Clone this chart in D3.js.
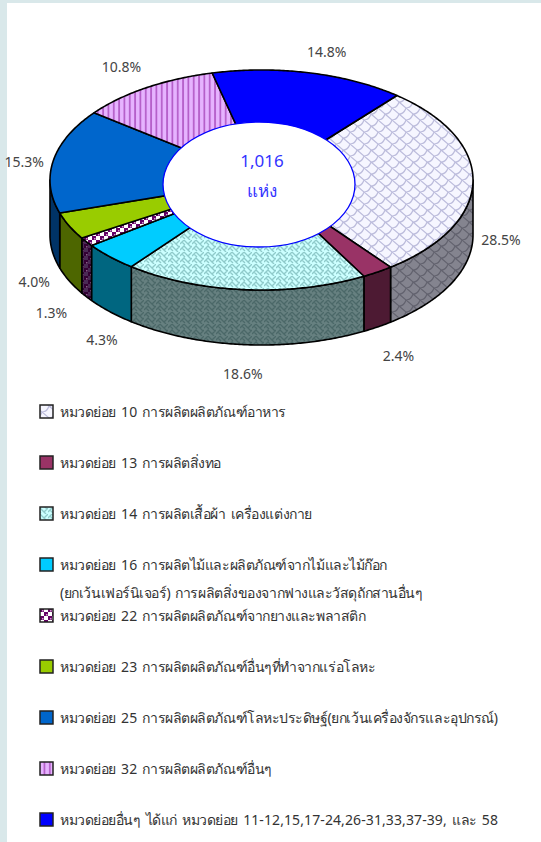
<!DOCTYPE html>
<html>
<head>
<meta charset="utf-8">
<script src="https://cdnjs.cloudflare.com/ajax/libs/d3/7.8.5/d3.min.js"></script>
<style>
    html, body { margin: 0; padding: 0; background: #d9e8ea; overflow: hidden; }
    #chart { position: absolute; left: 7px; top: 3px; width: 534px; height: 839px; background: #fff; }
    svg { position: absolute; left: -7px; top: -3px; }
    text { font-family: Tahoma, "Noto Sans", "DejaVu Sans", sans-serif; }
</style>
</head>
<body>
<div id="chart"></div>
<script>
//Datos
const categorias = [
    'หมวดย่อย 10 การผลิตผลิตภัณฑ์อาหาร',
    'หมวดย่อย 13 การผลิตสิ่งทอ',
    'หมวดย่อย 14 การผลิตเสื้อผ้า เครื่องแต่งกาย',
    'หมวดย่อย 16 การผลิตไม้และผลิตภัณฑ์จากไม้และไม้ก๊อก',
    'หมวดย่อย 22 การผลิตผลิตภัณฑ์จากยางและพลาสติก',
    'หมวดย่อย 23 การผลิตผลิตภัณฑ์อื่นๆที่ทำจากแร่อโลหะ',
    'หมวดย่อย 25 การผลิตผลิตภัณฑ์โลหะประดิษฐ์(ยกเว้นเครื่องจักรและอุปกรณ์)',
    'หมวดย่อย 32 การผลิตผลิตภัณฑ์อื่นๆ',
    'หมวดย่อยอื่นๆ ได้แก่ หมวดย่อย 11-12,15,17-24,26-31,33,37-39, และ 58'
];
const valores = [28.5, 2.4, 18.6, 4.3, 1.3, 4.0, 15.3, 10.8, 14.8];
const etiquetas = ['28.5%', '2.4%', '18.6%', '4.3%', '1.3%', '4.0%', '15.3%', '10.8%', '14.8%'];
const lineaExtra = '(ยกเว้นเฟอร์นิเจอร์) การผลิตสิ่งของจากฟางและวัสดุถักสานอื่นๆ';
const centro = ['1,016', 'แห่ง'];

//Colores: cara superior y pared lateral
const COLOR_TOP = ['url(#p0)', '#993366', 'url(#p2)', '#00ccff', 'url(#p4)', '#99cc00', '#0066cc', 'url(#p7)', '#0000ff'];
const COLOR_SIDE = ['url(#s0)', '#4d1a33', 'url(#s2)', '#006680', 'url(#s4)', '#4d6600', '#003366', '#704a80', '#000080'];

//Desplazamiento de las etiquetas respecto al borde de la tarta
const labelDx = [28, 21, -2, -8, -35, -35, -29, -25, 17];
const labelDy = [3, 29, 29, 28, 16, 1, 1, -21, -21];

const width = 541, height = 842;
const cx = 261.5, cy = 180, rx = 211.5, ry = 110, depth = 55;
const START = 39.8 * Math.PI / 180;

let svg = d3.select('#chart').append('svg')
    .attr('width', width)
    .attr('height', height);

let defs = svg.append('defs');

//Tramas
function addPattern(id, w, h, bg, draw) {
    let p = defs.append('pattern')
        .attr('id', id)
        .attr('patternUnits', 'userSpaceOnUse')
        .attr('width', w)
        .attr('height', h);
    p.append('rect').attr('width', w).attr('height', h).attr('fill', bg);
    draw(p);
}

function scales(stroke) {
    return function(p) {
        p.append('path')
            .attr('d', 'M0 0 L7 6 Q12 6 14 0 M7 6 L14 12 M0 12 Q5 12 7 6')
            .attr('fill', 'none')
            .attr('stroke', stroke)
            .attr('stroke-width', 1.2);
    };
}

function weave(stroke) {
    return function(p) {
        p.append('path')
            .attr('d', 'M0 4 L4 0 L8 4 L12 0 M0 10 L4 6 L8 10 L12 6 M2 2 L5 5 M8 4 L11 7 M2 8 L5 11 M8 10 L10 12')
            .attr('fill', 'none')
            .attr('stroke', stroke)
            .attr('stroke-width', 1.3);
    };
}

function checks(a, b) {
    return function(p) {
        p.append('rect').attr('width', 4).attr('height', 4).attr('fill', a);
        p.append('rect').attr('x', 4).attr('y', 4).attr('width', 4).attr('height', 4).attr('fill', a);
        p.append('rect').attr('x', 2).attr('y', 2).attr('width', 1.5).attr('height', 1.5).attr('fill', b);
        p.append('rect').attr('x', 6).attr('y', 6).attr('width', 1.5).attr('height', 1.5).attr('fill', b);
    };
}

addPattern('p0', 14, 12, '#f6f6ff', scales('#bcbcdc'));
addPattern('s0', 14, 12, '#84848f', scales('#62626e'));
addPattern('p2', 12, 12, '#ccffff', weave('#8fcaca'));
addPattern('s2', 12, 12, '#668080', weave('#4b6868'));
addPattern('p4', 8, 8, '#ffffff', checks('#660066', '#cc99cc'));
addPattern('s4', 8, 8, '#4a2a55', checks('#330033', '#886088'));
addPattern('p7', 5.33, 6, '#e6b3ff', function(p) {
    p.append('rect').attr('x', 1).attr('width', 1.7).attr('height', 6).attr('fill', '#b35cc8');
});

//Sectores
let pie = d3.pie()
    .sort(null)
    .startAngle(START)
    .endAngle(START + 2 * Math.PI);

let slices = pie(valores);

//Angulo medido desde arriba en sentido horario, proyectado sobre la elipse
function px(a) { return cx + rx * Math.sin(a); }
function py(a) { return cy - ry * Math.cos(a); }

let line = d3.line();

function angles(a0, a1) {
    let step = 0.01;
    return d3.range(a0, a1, step).concat([a1]);
}

function topPath(d) {
    let pts = angles(d.startAngle, d.endAngle).map(function(a) { return [px(a), py(a)]; });
    return line([[cx, cy]].concat(pts)) + 'Z';
}

//Solo se ve la pared entre 90 y 270 grados
function sidePath(d) {
    let a0 = Math.max(d.startAngle, Math.PI / 2),
        a1 = Math.min(d.endAngle, 3 * Math.PI / 2);
    if (a1 <= a0) { return null; }
    let upper = angles(a0, a1).map(function(a) { return [px(a), py(a)]; });
    let lower = angles(a0, a1).reverse().map(function(a) { return [px(a), py(a) + depth]; });
    return line(upper.concat(lower)) + 'Z';
}

let pieG = svg.append('g').attr('class', 'pie');

pieG.selectAll('.side')
    .data(slices)
    .enter()
    .append('path')
    .attr('class', 'side')
    .attr('d', sidePath)
    .attr('fill', function(d, i) { return COLOR_SIDE[i]; })
    .attr('stroke', '#000')
    .attr('stroke-width', 1.6)
    .attr('stroke-linejoin', 'round');

pieG.selectAll('.top')
    .data(slices)
    .enter()
    .append('path')
    .attr('class', 'top')
    .attr('d', topPath)
    .attr('fill', function(d, i) { return COLOR_TOP[i]; })
    .attr('stroke', '#000')
    .attr('stroke-width', 1.6)
    .attr('stroke-linejoin', 'round');

//Elipse central
svg.append('ellipse')
    .attr('cx', 259)
    .attr('cy', 184.5)
    .attr('rx', 96)
    .attr('ry', 62.5)
    .attr('fill', '#fff')
    .attr('stroke', '#0000ff')
    .attr('stroke-width', 1.3);

svg.selectAll('.centro')
    .data(centro)
    .enter()
    .append('text')
    .attr('class', 'centro')
    .attr('x', 262)
    .attr('y', function(d, i) { return 167 + i * 30; })
    .attr('text-anchor', 'middle')
    .attr('font-size', 17)
    .attr('fill', '#3333ff')
    .text(function(d) { return d; });

//Etiquetas
svg.selectAll('.label')
    .data(slices)
    .enter()
    .append('text')
    .attr('class', 'label')
    .attr('x', function(d, i) {
        let mid = (d.startAngle + d.endAngle) / 2;
        return px(mid) + labelDx[i];
    })
    .attr('y', function(d, i) {
        let mid = (d.startAngle + d.endAngle) / 2;
        let drop = (mid > Math.PI / 2 && mid < 3 * Math.PI / 2) ? depth : 0;
        return py(mid) + drop + labelDy[i];
    })
    .attr('dy', '.35em')
    .attr('text-anchor', 'middle')
    .attr('font-size', 14)
    .attr('fill', '#444')
    .text(function(d, i) { return etiquetas[i]; });

//Texto de leyenda: los numeros van sin apretar
function setLegendText(sel) {
    sel.selectAll('tspan')
        .data(function(d) { return d.split(/([0-9][0-9,\-]*)/); })
        .enter()
        .append('tspan')
        .attr('letter-spacing', function(d) { return /^[0-9]/.test(d) ? 0.1 : -0.45; })
        .text(function(d) { return d; });
}

//Leyenda
let yLegend = d3.scalePoint()
    .domain(categorias)
    .range([412, 820]);

let legend = svg.selectAll('.legend')
    .data(categorias)
    .enter()
    .append('g')
    .attr('class', 'legend')
    .attr('transform', function(d) { return 'translate(0,' + yLegend(d) + ')'; });

legend.append('rect')
    .attr('x', 40)
    .attr('y', -7)
    .attr('width', 13)
    .attr('height', 13)
    .attr('fill', function(d, i) { return COLOR_TOP[i]; })
    .attr('stroke', '#222')
    .attr('stroke-width', 1.5);

legend.append('text')
    .attr('x', 60)
    .attr('dy', '.35em')
    .attr('font-size', 14)
    .attr('word-spacing', 2)
    .attr('fill', '#333')
    .call(setLegendText);

svg.append('text')
    .datum(lineaExtra)
    .attr('x', 60)
    .attr('y', 593)
    .attr('dy', '.35em')
    .attr('font-size', 14)
    .attr('word-spacing', 2)
    .attr('fill', '#333')
    .call(setLegendText);
</script>
</body>
</html>
